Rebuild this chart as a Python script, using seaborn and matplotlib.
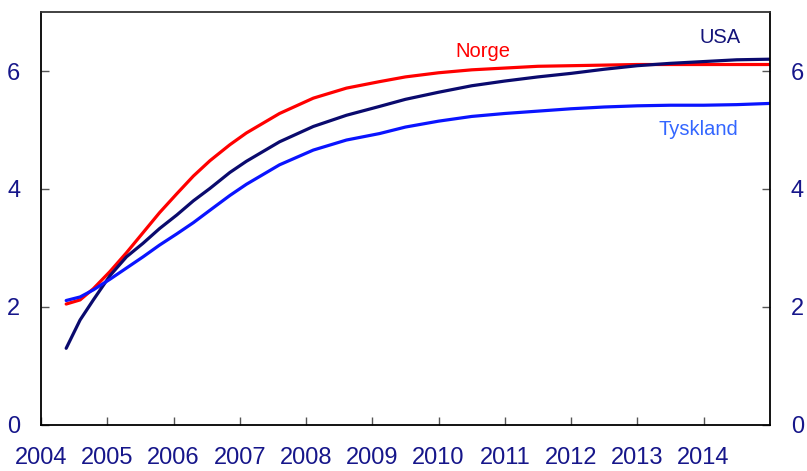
import matplotlib
matplotlib.use("Agg")
import matplotlib.pyplot as plt
import seaborn as sns
import pandas as pd

# values
years = [2004.38, 2004.59, 2004.79, 2005.04, 2005.29, 2005.54, 2005.79, 2006.05,
         2006.30, 2006.55, 2006.85, 2007.10, 2007.60, 2008.11, 2008.61, 2009.11,
         2009.5, 2010.0, 2010.5, 2011.0, 2011.5, 2012.0, 2012.5, 2013.0,
         2013.5, 2014.0, 2014.5, 2014.99]
norge = [2.05, 2.12, 2.31, 2.60, 2.92, 3.26, 3.60, 3.92,
         4.22, 4.48, 4.75, 4.95, 5.28, 5.54, 5.71, 5.82,
         5.90, 5.97, 6.02, 6.05, 6.08, 6.09, 6.10, 6.11,
         6.11, 6.11, 6.11, 6.11]
usa = [1.30, 1.78, 2.12, 2.53, 2.85, 3.08, 3.33, 3.56,
       3.80, 4.01, 4.28, 4.47, 4.80, 5.06, 5.25, 5.40,
       5.52, 5.64, 5.75, 5.83, 5.90, 5.96, 6.03, 6.09,
       6.13, 6.16, 6.19, 6.20]
tyskland = [2.11, 2.17, 2.29, 2.47, 2.66, 2.85, 3.05, 3.24,
            3.43, 3.64, 3.89, 4.08, 4.41, 4.66, 4.83, 4.94,
            5.05, 5.15, 5.23, 5.28, 5.32, 5.36, 5.39, 5.41,
            5.42, 5.42, 5.43, 5.45]

year_ticks = list(range(2004, 2015))
y_ticks = [0, 2, 4, 6]

df = pd.DataFrame({"year": years, "Norge": norge, "USA": usa, "Tyskland": tyskland})

sns.set_theme(style="white")
plt.rcParams["font.family"] = ["Liberation Sans", "DejaVu Sans"]

navy_txt = "#16168a"
fig = plt.figure(figsize=(8.07, 4.71), dpi=100)
ax = fig.add_axes([0.0508, 0.0977, 0.9032, 0.8768])

sns.lineplot(data=df, x="year", y="Norge", color="#ff0000", lw=2.3, ax=ax)
sns.lineplot(data=df, x="year", y="USA", color="#0a0a6e", lw=2.3, ax=ax)
sns.lineplot(data=df, x="year", y="Tyskland", color="#0a14ff", lw=2.3, ax=ax)

ax.text(2010.26, 6.24, "Norge", color="#ff0000", fontsize=14.5)
ax.text(2013.94, 6.48, "USA", color="#14147a", fontsize=14.5)
ax.text(2013.32, 4.92, "Tyskland", color="#3366ff", fontsize=14.5)

ax.set_xlim(2004, 2015)
ax.set_ylim(0, 7)
ax.set_xticks(year_ticks)
ax.set_xticklabels([str(y) for y in year_ticks])
ax.set_yticks(y_ticks)
ax.set_xlabel("")
ax.set_ylabel("")

ax.tick_params(axis="both", direction="in", length=6, width=1, color="#555555",
               labelsize=17, labelcolor=navy_txt)
ax.tick_params(axis="x", pad=16, bottom=True)
ax.tick_params(axis="y", pad=15, left=True, right=True, labelright=True)

for side, sp in ax.spines.items():
    sp.set_color("black" if side != "top" else "#333333")
    sp.set_linewidth(1.3)

fig.savefig("out.png", dpi=100)
